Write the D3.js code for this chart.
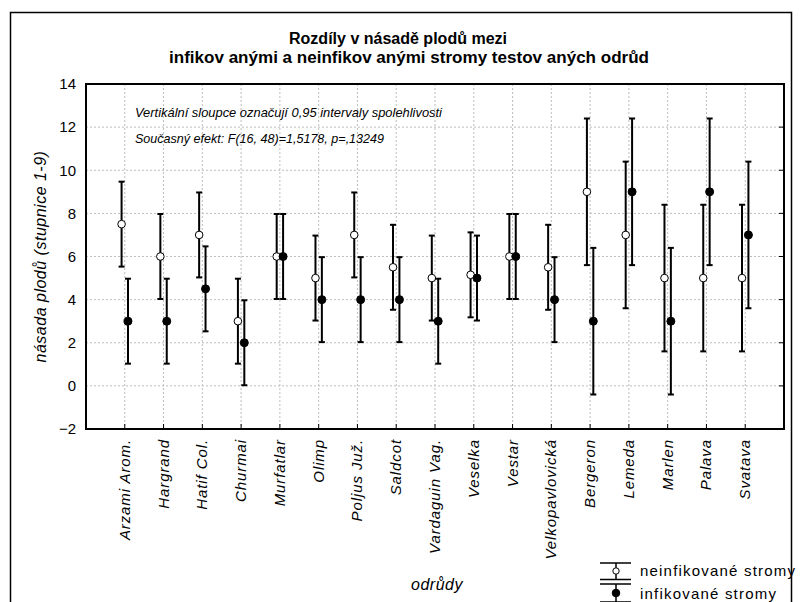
<!DOCTYPE html>
<html><head><meta charset="utf-8">
<script src="https://cdn.jsdelivr.net/npm/d3@7"></script>
<style>
html,body{margin:0;padding:0;background:#fff;}
svg{display:block;font-family:"Liberation Sans",Arial,sans-serif;}
</style></head>
<body>
<svg id="c" width="802" height="602"></svg>
<script>
const categories = ["Arzami Arom.","Hargrand","Hatif Col.","Churmai","Murfatlar","Olimp","Poljus Juž.","Saldcot","Vardaguin Vag.","Veselka","Vestar","Velkopavlovická","Bergeron","Lemeda","Marlen","Palava","Svatava"];
const uninfMean = [7.5,6,7,3,6,5,7,5.5,5,5.15,6,5.5,9,7,5,5,5];
const uninfLow  = [5.53,4.03,5.03,1.03,4.03,3.03,5.03,3.53,3.03,3.18,4.03,3.53,5.6,3.6,1.6,1.6,1.6];
const uninfHigh = [9.47,7.97,8.97,4.97,7.97,6.97,8.97,7.47,6.97,7.12,7.97,7.47,12.4,10.4,8.4,8.4,8.4];
const infMean = [3,3,4.5,2,6,4,4,4,3,5,6,4,3,9,3,9,7];
const infLow  = [1.03,1.03,2.53,0.03,4.03,2.03,2.03,2.03,1.03,3.03,4.03,2.03,-0.4,5.6,-0.4,5.6,3.6];
const infHigh = [4.97,4.97,6.47,3.97,7.97,5.97,5.97,5.97,4.97,6.97,7.97,5.97,6.4,12.4,6.4,12.4,10.4];
const yTicks = [-2,0,2,4,6,8,10,12,14];
const titleLines = ["Rozdíly v  násadě plodů mezi","infikov anými a neinfikov anými stromy testov aných odrůd"];
const notes = ["Vertikální sloupce označují 0,95 intervaly spolehlivosti","Současný efekt: F(16, 48)=1,5178, p=,13249"];
const seriesNames = ["neinfikované stromy","infikované stromy"];
const yTitle = "násada plodů  (stupnice 1-9)";
const xTitle = "odrůdy";

const svg = d3.select("#c");
const L = 86, R = 784, T = 84, B = 429;
const x = d3.scalePoint().domain(categories).range([L, R]).padding(1);
const y = d3.scaleLinear().domain([-2, 14]).range([B, T]);

// outer frame
svg.append("path").attr("d","M10.5,602 V12.5 H791.5 V602").attr("fill","none").attr("stroke","#000").attr("stroke-width",1.5);

// title
svg.append("text").attr("x",289).attr("y",44).attr("font-size",16).attr("font-weight","bold")
  .attr("textLength",218).attr("lengthAdjust","spacingAndGlyphs").text(titleLines[0]);
svg.append("text").attr("x",169).attr("y",63).attr("font-size",16).attr("font-weight","bold")
  .attr("textLength",480).attr("lengthAdjust","spacingAndGlyphs").text(titleLines[1]);

// gridlines
const grid = svg.append("g");
grid.selectAll(".gy").data(yTicks.filter(v=>v>-2&&v<14)).join("line")
  .attr("x1",L).attr("x2",R).attr("y1",d=>y(d)).attr("y2",d=>y(d))
  .attr("stroke","#bdbdbd").attr("stroke-width",1).attr("stroke-dasharray","2,2");
grid.selectAll(".gx").data(categories).join("line")
  .attr("x1",d=>x(d)).attr("x2",d=>x(d)).attr("y1",T).attr("y2",B)
  .attr("stroke","#bdbdbd").attr("stroke-width",1).attr("stroke-dasharray","2,2");

// y axis labels
const yAxis = d3.axisLeft(y).tickValues(yTicks).tickSize(0).tickPadding(10).tickFormat(d3.format("d"));
const gy = svg.append("g").attr("transform",`translate(${L},0)`).call(yAxis);
gy.select(".domain").remove();
gy.selectAll("text").attr("font-size",15).attr("font-family","Liberation Sans, Arial, sans-serif").attr("fill","#000");

// right inner ticks
svg.append("g").selectAll("line").data(yTicks.filter(v=>v>-2&&v<14)).join("line")
  .attr("x1",R-5).attr("x2",R).attr("y1",d=>y(d)).attr("y2",d=>y(d)).attr("stroke","#000").attr("stroke-width",1);
// bottom inner ticks
svg.append("g").selectAll("line").data(categories).join("line")
  .attr("x1",d=>x(d)).attr("x2",d=>x(d)).attr("y1",B-5).attr("y2",B).attr("stroke","#000").attr("stroke-width",1);

// x labels
svg.append("g").selectAll("text").data(categories).join("text")
  .attr("transform",d=>`translate(${x(d)+5},439) rotate(-90)`)
  .attr("text-anchor","end").attr("font-size",15).attr("font-style","italic")
  .attr("letter-spacing",0.9).text(d=>d);

// plot border
svg.append("rect").attr("x",L).attr("y",T).attr("width",R-L).attr("height",B-T)
  .attr("fill","none").attr("stroke","#000").attr("stroke-width",2);

// notes
svg.append("text").attr("x",135).attr("y",117).attr("font-size",13).attr("font-style","italic")
  .attr("textLength",307).attr("lengthAdjust","spacingAndGlyphs").text(notes[0]);
svg.append("text").attr("x",135).attr("y",143).attr("font-size",13).attr("font-style","italic")
  .attr("textLength",249).attr("lengthAdjust","spacingAndGlyphs").text(notes[1]);

// axis titles
svg.append("text").attr("transform",`translate(46,${(T+B)/2}) rotate(-90)`).attr("text-anchor","middle")
  .attr("font-size",16).attr("font-style","italic").attr("letter-spacing",0.5).text(yTitle);
svg.append("text").attr("x",437).attr("y",590).attr("text-anchor","middle")
  .attr("font-size",16).attr("font-style","italic").attr("letter-spacing",0.5).text(xTitle);

// error bars
const off = 3.2, cap = 3;
function drawSeries(mean, lo, hi, dx, fill, r){
  const g = svg.append("g");
  const d = categories.map((c,i)=>({c, m:mean[i], lo:lo[i], hi:hi[i]}));
  g.selectAll(".v").data(d).join("line")
    .attr("x1",e=>x(e.c)+dx).attr("x2",e=>x(e.c)+dx).attr("y1",e=>y(e.lo)).attr("y2",e=>y(e.hi))
    .attr("stroke","#000").attr("stroke-width",2);
  g.selectAll(".ct").data(d).join("line")
    .attr("x1",e=>x(e.c)+dx-cap).attr("x2",e=>x(e.c)+dx+cap).attr("y1",e=>y(e.hi)).attr("y2",e=>y(e.hi))
    .attr("stroke","#000").attr("stroke-width",2);
  g.selectAll(".cb").data(d).join("line")
    .attr("x1",e=>x(e.c)+dx-cap).attr("x2",e=>x(e.c)+dx+cap).attr("y1",e=>y(e.lo)).attr("y2",e=>y(e.lo))
    .attr("stroke","#000").attr("stroke-width",2);
  g.selectAll("circle").data(d).join("circle")
    .attr("cx",e=>x(e.c)+dx).attr("cy",e=>y(e.m)).attr("r",r)
    .attr("fill",fill).attr("stroke","#000").attr("stroke-width",1);
}
drawSeries(uninfMean, uninfLow, uninfHigh, -off, "#fff", 3.8);
drawSeries(infMean, infLow, infHigh, off, "#000", 4);

// legend
const lg = svg.append("g");
const sym = [{y0:563, y1:579.5, cy:571, fill:"#fff", r:3.2},{y0:584, y1:602, cy:593, fill:"#000", r:3.8}];
sym.forEach((s,i)=>{
  lg.append("line").attr("x1",600).attr("x2",631).attr("y1",s.y0).attr("y2",s.y0).attr("stroke","#000").attr("stroke-width",1.5);
  lg.append("line").attr("x1",600).attr("x2",631).attr("y1",s.y1).attr("y2",s.y1).attr("stroke","#000").attr("stroke-width",1.5);
  lg.append("line").attr("x1",616).attr("x2",616).attr("y1",s.y0).attr("y2",s.y1).attr("stroke","#000").attr("stroke-width",1.5);
  lg.append("circle").attr("cx",616).attr("cy",s.cy).attr("r",s.r).attr("fill",s.fill).attr("stroke","#000").attr("stroke-width",1);
  lg.append("text").attr("x",640).attr("y",i===0?576:599).attr("font-size",15).attr("letter-spacing",1.2)
    .text(seriesNames[i]);
});
</script>
</body></html>
